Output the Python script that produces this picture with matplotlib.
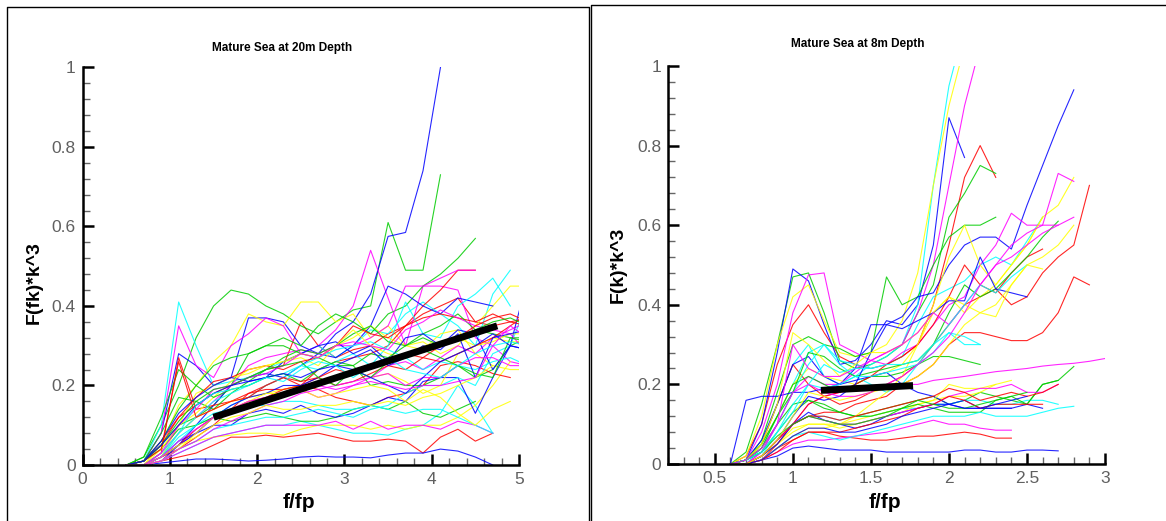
import matplotlib.pyplot as plt
import numpy as np
from matplotlib.lines import Line2D
from matplotlib.ticker import MultipleLocator, FormatStrFormatter

plt.rcParams['font.family'] = ['Liberation Sans', 'DejaVu Sans']

# line colour cycle (red, green, blue, cyan, yellow, magenta)
colors = ['#ff0000', '#00cc00', '#0000ff', '#00ffff', '#ffff00', '#ff00ff']

# ---- 20 m depth: f/fp grid and F(fk)*k^3 curves ----
fp20 = np.arange(24) * 0.2 + 0.5
spec20 = [
    [0, 0.01, 0.06, 0.12, 0.15, 0.18, 0.2, 0.22, 0.24, 0.25, 0.36, 0.3, 0.27, 0.29, 0.3, 0.33, 0.35, 0.38, 0.4, 0.42, 0.36, 0.35, 0.36, 0.37],
    [0, 0.02, 0.1, 0.2, 0.32, 0.4, 0.44, 0.43, 0.4, 0.38, 0.35, 0.33, 0.36, 0.39, 0.4, 0.61, 0.49, 0.49, 0.73],
    [0, 0.01, 0.08, 0.28, 0.25, 0.2, 0.22, 0.37, 0.37, 0.36, 0.3, 0.28, 0.33, 0.36, 0.43, 0.575, 0.585, 0.74, 1.0],
    [0, 0.01, 0.1, 0.41, 0.3, 0.2, 0.21, 0.22, 0.24, 0.26, 0.28, 0.3, 0.27, 0.3, 0.34, 0.33, 0.38, 0.41, 0.38, 0.35, 0.3, 0.43, 0.49],
    [0, 0.0, 0.05, 0.15, 0.2, 0.26, 0.3, 0.38, 0.36, 0.35, 0.41, 0.41, 0.36, 0.38, 0.32, 0.35, 0.3, 0.31, 0.28, 0.3, 0.35, 0.4, 0.45, 0.45],
    [0, 0.01, 0.08, 0.35, 0.25, 0.22, 0.3, 0.33, 0.37, 0.35, 0.28, 0.3, 0.34, 0.4, 0.54, 0.42, 0.3, 0.45, 0.45, 0.44, 0.32, 0.3, 0.26, 0.25],
    [0, 0, 0.02, 0.04, 0.07, 0.1, 0.14, 0.18, 0.2, 0.22, 0.2, 0.24, 0.26, 0.27, 0.28, 0.3, 0.35, 0.4, 0.44, 0.49, 0.49],
    [0, 0.01, 0.05, 0.1, 0.12, 0.15, 0.2, 0.28, 0.3, 0.32, 0.3, 0.35, 0.38, 0.36, 0.33, 0.38, 0.4, 0.45, 0.48, 0.52, 0.57],
    [0, 0, 0.01, 0.05, 0.1, 0.15, 0.2, 0.22, 0.23, 0.22, 0.25, 0.28, 0.27, 0.3, 0.35, 0.45, 0.43, 0.4, 0.38, 0.42, 0.41, 0.4],
    [0, 0, 0.02, 0.07, 0.1, 0.12, 0.15, 0.17, 0.2, 0.22, 0.25, 0.24, 0.26, 0.28, 0.25, 0.3, 0.41, 0.33, 0.32, 0.4, 0.43, 0.47, 0.4],
    [0, 0, 0.02, 0.1, 0.18, 0.2, 0.22, 0.23, 0.25, 0.26, 0.27, 0.25, 0.3, 0.32, 0.35, 0.32, 0.3, 0.29, 0.33, 0.34, 0.28, 0.25, 0.24, 0.24],
    [0, 0, 0.03, 0.08, 0.12, 0.16, 0.2, 0.25, 0.27, 0.28, 0.29, 0.28, 0.3, 0.3, 0.32, 0.35, 0.45, 0.45, 0.47, 0.49, 0.49],
    [0, 0, 0.01, 0.02, 0.03, 0.05, 0.07, 0.07, 0.075, 0.07, 0.075, 0.08, 0.07, 0.06, 0.06, 0.065, 0.06, 0.03, 0.07, 0.09, 0.06, 0.08],
    [0, 0.01, 0.06, 0.14, 0.2, 0.25, 0.27, 0.28, 0.3, 0.3, 0.28, 0.27, 0.25, 0.25, 0.2, 0.21, 0.2, 0.2, 0.22, 0.25, 0.22, 0.24, 0.3, 0.32],
    [0, 0, 0.005, 0.01, 0.015, 0.015, 0.013, 0.01, 0.012, 0.015, 0.02, 0.022, 0.02, 0.02, 0.018, 0.025, 0.03, 0.03, 0.04, 0.035, 0.02, 0.0],
    [0, 0, 0.01, 0.03, 0.05, 0.07, 0.08, 0.09, 0.1, 0.1, 0.11, 0.1, 0.09, 0.08, 0.08, 0.075, 0.09, 0.1, 0.13, 0.2, 0.15, 0.08],
    [0, 0, 0.01, 0.04, 0.06, 0.07, 0.075, 0.08, 0.08, 0.075, 0.09, 0.1, 0.1, 0.1, 0.09, 0.1, 0.09, 0.1, 0.1, 0.12, 0.15, 0.2, 0.26],
    [0, 0, 0.01, 0.03, 0.05, 0.07, 0.08, 0.09, 0.1, 0.1, 0.1, 0.1, 0.11, 0.09, 0.11, 0.09, 0.1, 0.1, 0.09, 0.11, 0.1, 0.08],
    [0, 0, 0.03, 0.27, 0.14, 0.15, 0.16, 0.18, 0.19, 0.19, 0.2, 0.19, 0.17, 0.16, 0.15, 0.17, 0.18, 0.2, 0.25, 0.26, 0.25, 0.23, 0.22],
    [0, 0.01, 0.04, 0.09, 0.1, 0.12, 0.11, 0.12, 0.13, 0.12, 0.11, 0.11, 0.12, 0.14, 0.15, 0.14, 0.16, 0.13, 0.12, 0.14, 0.16],
    [0, 0, 0.02, 0.06, 0.08, 0.1, 0.1, 0.13, 0.14, 0.13, 0.15, 0.13, 0.12, 0.13, 0.15, 0.17, 0.16, 0.21, 0.22, 0.22, 0.13, 0.22, 0.3, 0.29],
    [0, 0, 0.01, 0.04, 0.06, 0.09, 0.1, 0.11, 0.12, 0.12, 0.13, 0.14, 0.13, 0.12, 0.14, 0.15, 0.18, 0.2, 0.2, 0.22, 0.2, 0.28, 0.3, 0.41],
    [0, 0, 0.02, 0.08, 0.12, 0.14, 0.16, 0.17, 0.18, 0.19, 0.2, 0.2, 0.22, 0.24, 0.22, 0.23, 0.21, 0.18, 0.2, 0.28, 0.3, 0.32, 0.31, 0.31],
    [0, 0, 0.02, 0.05, 0.08, 0.12, 0.14, 0.15, 0.16, 0.18, 0.19, 0.17, 0.18, 0.2, 0.22, 0.25, 0.26, 0.24, 0.27, 0.3, 0.28, 0.32, 0.34, 0.36],
    [0, 0.01, 0.05, 0.12, 0.17, 0.21, 0.22, 0.24, 0.25, 0.24, 0.26, 0.27, 0.3, 0.35, 0.33, 0.32, 0.35, 0.37, 0.38, 0.37, 0.36, 0.38, 0.36, 0.35],
    [0, 0.01, 0.08, 0.17, 0.16, 0.14, 0.18, 0.21, 0.24, 0.27, 0.29, 0.28, 0.3, 0.33, 0.35, 0.31, 0.3, 0.33, 0.35, 0.38, 0.34, 0.33, 0.32, 0.32],
    [0, 0.01, 0.06, 0.13, 0.17, 0.2, 0.22, 0.21, 0.22, 0.26, 0.28, 0.3, 0.31, 0.28, 0.3, 0.26, 0.32, 0.33, 0.3, 0.34, 0.33, 0.24, 0.3, 0.47],
    [0, 0, 0.03, 0.08, 0.12, 0.16, 0.18, 0.2, 0.22, 0.23, 0.25, 0.27, 0.29, 0.3, 0.31, 0.29, 0.27, 0.24, 0.26, 0.25, 0.24, 0.26, 0.27, 0.25],
    [0, 0, 0.04, 0.1, 0.13, 0.17, 0.21, 0.24, 0.25, 0.26, 0.28, 0.27, 0.3, 0.34, 0.3, 0.28, 0.27, 0.3, 0.3, 0.32, 0.3, 0.31, 0.33, 0.33],
    [0, 0, 0.03, 0.1, 0.14, 0.19, 0.2, 0.22, 0.23, 0.25, 0.28, 0.27, 0.3, 0.31, 0.3, 0.29, 0.34, 0.36, 0.39, 0.37, 0.35, 0.34, 0.33, 0.28],
    [0, 0, 0.02, 0.05, 0.09, 0.12, 0.14, 0.16, 0.17, 0.19, 0.2, 0.22, 0.2, 0.21, 0.23, 0.25, 0.24, 0.27, 0.26, 0.28, 0.3, 0.32, 0.35, 0.38],
    [0, 0.02, 0.12, 0.24, 0.2, 0.17, 0.19, 0.2, 0.22, 0.23, 0.21, 0.24, 0.26, 0.25, 0.28, 0.27, 0.3, 0.32, 0.3, 0.32, 0.34, 0.36, 0.37, 0.35],
    [0, 0, 0.02, 0.05, 0.08, 0.12, 0.15, 0.17, 0.18, 0.2, 0.2, 0.22, 0.25, 0.27, 0.29, 0.25, 0.27, 0.3, 0.29, 0.33, 0.22, 0.32, 0.33, 0.34],
    [0, 0, 0.02, 0.06, 0.1, 0.13, 0.14, 0.15, 0.15, 0.16, 0.16, 0.15, 0.14, 0.14, 0.15, 0.14, 0.13, 0.14, 0.14, 0.12, 0.1, 0.08],
    [0, 0, 0.01, 0.04, 0.08, 0.12, 0.14, 0.16, 0.18, 0.18, 0.19, 0.17, 0.18, 0.19, 0.2, 0.19, 0.16, 0.19, 0.17, 0.13, 0.1, 0.14, 0.16],
    [0, 0, 0.01, 0.04, 0.06, 0.09, 0.11, 0.13, 0.15, 0.16, 0.18, 0.19, 0.2, 0.21, 0.22, 0.23, 0.2, 0.22, 0.22, 0.25, 0.27, 0.27, 0.25, 0.25],
    [0, 0.01, 0.04, 0.26, 0.12, 0.14, 0.16, 0.17, 0.2, 0.22, 0.21, 0.22, 0.24, 0.23, 0.25, 0.26, 0.28, 0.27, 0.3, 0.32, 0.35, 0.37, 0.38, 0.36],
    [0, 0.01, 0.05, 0.11, 0.16, 0.19, 0.2, 0.22, 0.24, 0.25, 0.26, 0.22, 0.2, 0.24, 0.22, 0.26, 0.28, 0.29, 0.27, 0.25, 0.23, 0.22, 0.32, 0.31],
    [0, 0.01, 0.05, 0.1, 0.15, 0.18, 0.2, 0.21, 0.22, 0.23, 0.22, 0.24, 0.25, 0.24, 0.22, 0.2, 0.18, 0.22, 0.26, 0.28, 0.3, 0.33, 0.3, 0.29],
    [0, 0.0, 0.02, 0.08, 0.15, 0.18, 0.19, 0.2, 0.22, 0.21, 0.24, 0.26, 0.25, 0.22, 0.25, 0.27, 0.24, 0.23, 0.22, 0.25, 0.28, 0.3, 0.31, 0.3],
    [0, 0, 0.02, 0.05, 0.07, 0.1, 0.12, 0.13, 0.15, 0.14, 0.14, 0.15, 0.15, 0.16, 0.15, 0.16, 0.15, 0.17, 0.18, 0.2, 0.22, 0.25],
    [0, 0, 0.02, 0.06, 0.09, 0.12, 0.14, 0.16, 0.17, 0.18, 0.19, 0.2, 0.19, 0.2, 0.21, 0.2, 0.19, 0.2, 0.2, 0.21, 0.22, 0.3, 0.35, 0.32],
]
fit20_x = [1.5, 4.75]
fit20_y = [0.12, 0.35]

# ---- 8 m depth ----
fp8 = np.arange(25) * 0.1 + 0.6
spec8 = [
    [0, 0.02, 0.1, 0.25, 0.35, 0.4, 0.33, 0.27, 0.25, 0.24, 0.25, 0.27, 0.3, 0.4, 0.55, 0.72, 0.8, 0.72],
    [0, 0.03, 0.15, 0.3, 0.47, 0.48, 0.38, 0.26, 0.24, 0.25, 0.27, 0.3, 0.38, 0.45, 0.62, 0.68, 0.75, 0.73],
    [0, 0.01, 0.1, 0.28, 0.49, 0.46, 0.35, 0.25, 0.26, 0.3, 0.36, 0.35, 0.4, 0.55, 0.87, 0.77],
    [0, 0.01, 0.05, 0.15, 0.25, 0.3, 0.22, 0.2, 0.22, 0.25, 0.27, 0.3, 0.4, 0.7, 0.95, 1.1],
    [0, 0.02, 0.12, 0.3, 0.42, 0.45, 0.36, 0.28, 0.27, 0.28, 0.3, 0.36, 0.48, 0.7, 0.9, 1.05],
    [0, 0.01, 0.08, 0.2, 0.38, 0.475, 0.48, 0.3, 0.28, 0.26, 0.28, 0.3, 0.38, 0.5, 0.7, 0.9, 1.05],
    [0, 0.01, 0.05, 0.15, 0.25, 0.2, 0.17, 0.15, 0.16, 0.18, 0.2, 0.22, 0.25, 0.3, 0.35, 0.4, 0.42, 0.44, 0.4, 0.42, 0.48, 0.52, 0.55, 0.7],
    [0, 0.01, 0.06, 0.18, 0.3, 0.32, 0.3, 0.29, 0.27, 0.28, 0.47, 0.4, 0.42, 0.5, 0.57, 0.6, 0.6, 0.62],
    [0, 0.01, 0.06, 0.15, 0.25, 0.27, 0.22, 0.2, 0.24, 0.35, 0.35, 0.37, 0.42, 0.43, 0.5, 0.55, 0.57, 0.57, 0.54, 0.65, 0.75, 0.85, 0.94],
    [0, 0, 0.04, 0.12, 0.2, 0.28, 0.3, 0.26, 0.25, 0.24, 0.25, 0.27, 0.35, 0.42, 0.44, 0.46, 0.5, 0.52, 0.5, 0.56, 0.62],
    [0, 0.01, 0.05, 0.12, 0.2, 0.24, 0.22, 0.21, 0.2, 0.22, 0.23, 0.25, 0.3, 0.38, 0.42, 0.38, 0.42, 0.45, 0.5, 0.55, 0.62, 0.65, 0.72],
    [0, 0, 0.03, 0.1, 0.18, 0.22, 0.2, 0.2, 0.23, 0.26, 0.25, 0.28, 0.3, 0.35, 0.4, 0.42, 0.5, 0.55, 0.63, 0.6, 0.6, 0.73, 0.71],
    [0, 0, 0.02, 0.06, 0.1, 0.12, 0.13, 0.13, 0.15, 0.16, 0.17, 0.2, 0.22, 0.25, 0.3, 0.33, 0.33, 0.32, 0.31, 0.31, 0.33, 0.38, 0.47, 0.45],
    [0, 0.01, 0.04, 0.1, 0.15, 0.16, 0.14, 0.13, 0.12, 0.13, 0.14, 0.15, 0.16, 0.17, 0.15, 0.16, 0.18, 0.17, 0.16, 0.15, 0.2, 0.21, 0.245],
    [0, 0, 0.01, 0.02, 0.04, 0.045, 0.04, 0.035, 0.035, 0.035, 0.03, 0.03, 0.03, 0.03, 0.03, 0.035, 0.035, 0.03, 0.03, 0.035, 0.035, 0.033],
    [0, 0, 0.02, 0.06, 0.1, 0.12, 0.12, 0.11, 0.12, 0.12, 0.13, 0.14, 0.14, 0.15, 0.15, 0.16, 0.16, 0.15, 0.15, 0.16, 0.16, 0.15],
    [0, 0, 0.02, 0.05, 0.09, 0.1, 0.1, 0.1, 0.11, 0.12, 0.13, 0.14, 0.15, 0.16, 0.17, 0.17, 0.18, 0.2, 0.21],
    [0, 0, 0.02, 0.06, 0.1, 0.15, 0.17, 0.18, 0.19, 0.19, 0.19, 0.2, 0.2, 0.21, 0.215, 0.22, 0.226, 0.232, 0.236, 0.24, 0.246, 0.25, 0.253, 0.258, 0.265],
    [0, 0, 0.01, 0.04, 0.06, 0.08, 0.08, 0.07, 0.065, 0.06, 0.06, 0.065, 0.07, 0.07, 0.075, 0.08, 0.075, 0.065, 0.065],
    [0, 0.01, 0.04, 0.12, 0.2, 0.22, 0.2, 0.18, 0.2, 0.22, 0.22, 0.23, 0.25, 0.27, 0.27, 0.26, 0.25],
    [0, 0.16, 0.17, 0.17, 0.18, 0.18, 0.19, 0.2, 0.21, 0.22, 0.23, 0.2, 0.18, 0.17, 0.15, 0.14, 0.14, 0.14, 0.14],
    [0, 0.01, 0.03, 0.1, 0.18, 0.25, 0.3, 0.25, 0.22, 0.2, 0.18, 0.2, 0.25, 0.3, 0.33, 0.3, 0.3],
    [0, 0, 0.02, 0.05, 0.08, 0.1, 0.1, 0.09, 0.1, 0.11, 0.12, 0.13, 0.15, 0.16, 0.2, 0.19, 0.19, 0.2],
    [0, 0, 0.01, 0.03, 0.05, 0.06, 0.06, 0.065, 0.07, 0.075, 0.08, 0.09, 0.1, 0.11, 0.1, 0.1, 0.09, 0.085, 0.085],
    [0, 0, 0.01, 0.05, 0.1, 0.15, 0.17, 0.18, 0.2, 0.22, 0.25, 0.27, 0.3, 0.35, 0.42, 0.5, 0.45, 0.43, 0.48, 0.52, 0.54],
    [0, 0.01, 0.03, 0.08, 0.13, 0.16, 0.15, 0.13, 0.12, 0.12, 0.13, 0.14, 0.15, 0.14, 0.13, 0.13, 0.13, 0.16, 0.17, 0.15, 0.2, 0.21],
    [0, 0, 0.02, 0.05, 0.1, 0.13, 0.11, 0.1, 0.09, 0.1, 0.12, 0.13, 0.14, 0.15, 0.15, 0.16, 0.14, 0.14, 0.14, 0.15, 0.14],
    [0, 0, 0.01, 0.04, 0.07, 0.08, 0.07, 0.06, 0.07, 0.08, 0.09, 0.1, 0.11, 0.12, 0.12, 0.12, 0.13, 0.12, 0.12, 0.12, 0.13, 0.14, 0.145],
    [0, 0, 0.01, 0.04, 0.07, 0.09, 0.09, 0.1, 0.12, 0.15, 0.18, 0.22, 0.3, 0.4, 0.52, 0.6, 0.5, 0.45, 0.5, 0.55, 0.62],
    [0, 0, 0.02, 0.06, 0.1, 0.12, 0.11, 0.1, 0.1, 0.11, 0.12, 0.13, 0.14, 0.15, 0.17, 0.18, 0.19, 0.19, 0.2, 0.18, 0.18, 0.2],
    [0, 0, 0.01, 0.03, 0.06, 0.08, 0.08, 0.08, 0.09, 0.1, 0.11, 0.12, 0.14, 0.15, 0.17, 0.16, 0.14, 0.15, 0.15, 0.15, 0.15],
    [0, 0.01, 0.05, 0.12, 0.18, 0.28, 0.27, 0.24, 0.22, 0.23, 0.24, 0.25, 0.26, 0.3, 0.38, 0.45, 0.42, 0.44, 0.48, 0.52, 0.57, 0.61],
    [0, 0, 0.02, 0.06, 0.12, 0.17, 0.16, 0.17, 0.2, 0.28, 0.35, 0.34, 0.36, 0.38, 0.41, 0.41, 0.52, 0.44, 0.43, 0.42],
    [0, 0, 0.02, 0.08, 0.15, 0.2, 0.19, 0.2, 0.22, 0.22, 0.23, 0.24, 0.25, 0.28, 0.33, 0.32, 0.3],
    [0, 0.01, 0.05, 0.15, 0.33, 0.3, 0.26, 0.22, 0.25, 0.28, 0.28, 0.3, 0.33, 0.38, 0.42, 0.4, 0.38, 0.37, 0.45, 0.5, 0.49],
    [0, 0, 0.03, 0.1, 0.3, 0.24, 0.22, 0.22, 0.24, 0.26, 0.28, 0.3, 0.33, 0.38, 0.35, 0.4, 0.45, 0.5, 0.52, 0.55, 0.58, 0.6],
    [0, 0, 0.02, 0.06, 0.1, 0.12, 0.12, 0.11, 0.12, 0.13, 0.14, 0.15, 0.16, 0.17, 0.19, 0.18, 0.16, 0.17, 0.18, 0.17, 0.18, 0.2],
    [0, 0.01, 0.03, 0.07, 0.1, 0.12, 0.11, 0.1, 0.1, 0.11, 0.12, 0.14, 0.16, 0.15, 0.14, 0.14, 0.15, 0.16, 0.17, 0.18],
    [0, 0, 0.01, 0.04, 0.07, 0.09, 0.09, 0.08, 0.08, 0.09, 0.1, 0.12, 0.13, 0.14, 0.15, 0.14, 0.14, 0.15, 0.16, 0.17],
    [0, 0.01, 0.03, 0.08, 0.13, 0.2, 0.25, 0.23, 0.24, 0.24, 0.25, 0.25, 0.26, 0.3, 0.35, 0.4, 0.45, 0.43, 0.47, 0.5],
    [0, 0, 0.02, 0.06, 0.12, 0.18, 0.17, 0.16, 0.17, 0.18, 0.19, 0.2, 0.22, 0.25, 0.3, 0.35, 0.38, 0.4, 0.45, 0.5, 0.52, 0.55, 0.6],
    [0, 0.01, 0.04, 0.1, 0.18, 0.2, 0.18, 0.17, 0.17, 0.18, 0.2, 0.22, 0.25, 0.28, 0.32, 0.38, 0.45, 0.5, 0.55, 0.58, 0.6, 0.6, 0.62],
]
fit8_x = [1.18, 1.77]
fit8_y = [0.185, 0.197]


def style_axis(ax, xlim, xmajor, xminor):
    ax.set_xlim(*xlim)
    ax.set_ylim(0, 1)
    for s in ['top', 'right']:
        ax.spines[s].set_visible(False)
    for s in ['left', 'bottom']:
        ax.spines[s].set_linewidth(1.8)
    ax.xaxis.set_major_locator(MultipleLocator(xmajor))
    ax.xaxis.set_minor_locator(MultipleLocator(xminor))
    ax.xaxis.set_major_formatter(FormatStrFormatter('%g'))
    ax.yaxis.set_major_locator(MultipleLocator(0.2))
    ax.yaxis.set_minor_locator(MultipleLocator(0.04))
    ax.yaxis.set_major_formatter(FormatStrFormatter('%g'))
    ax.tick_params(which='major', direction='in', length=8, width=1.8,
                   labelsize=12.5, labelcolor='#606060', pad=5)
    ax.tick_params(which='minor', direction='in', length=5, width=1.0,
                   color='#666666')


def draw_panel(ax, xs, curves, fit_x, fit_y):
    for i, c in enumerate(curves):
        ax.plot(xs[:len(c)], c, color=colors[i % 6], lw=0.8, alpha=0.85)
    ax.plot(fit_x, fit_y, color='black', lw=5, solid_capstyle='butt')


fig = plt.figure(figsize=(11.66, 5.21), dpi=100)

ax1 = fig.add_axes([0.0709, 0.1075, 0.3742, 0.763])
draw_panel(ax1, fp20, spec20, fit20_x, fit20_y)
style_axis(ax1, (0, 5), 1, 0.2)
ax1.set_xlabel('f/fp', fontsize=15, fontweight='bold')
ax1.xaxis.set_label_coords(0.496, -0.07)
ax1.set_ylabel('F(fk)*k^3', fontsize=14, fontweight='bold')
ax1.yaxis.set_label_coords(-0.091, 0.46)
ax1.text(0.457, 1.05, 'Mature Sea at 20m Depth', transform=ax1.transAxes,
         ha='center', va='center', fontsize=8.5, fontweight='bold')

ax2 = fig.add_axes([0.5729, 0.1094, 0.3748, 0.764])
draw_panel(ax2, fp8, spec8, fit8_x, fit8_y)
style_axis(ax2, (0.2, 3.0), 0.5, 0.1)
ax2.set_xlabel('f/fp', fontsize=15, fontweight='bold')
ax2.xaxis.set_label_coords(0.496, -0.073)
ax2.set_ylabel('F(k)*k^3', fontsize=14, fontweight='bold')
ax2.yaxis.set_label_coords(-0.094, 0.5)
ax2.text(0.435, 1.055, 'Mature Sea at 8m Depth', transform=ax2.transAxes,
         ha='center', va='center', fontsize=8.5, fontweight='bold')

# frames around the two panels
W, H = 1166.0, 521.0
for x0, x1, yt in [(7, 589, 7), (591, 1170, 5)]:
    fig.add_artist(Line2D([x0 / W, x0 / W, x1 / W, x1 / W],
                          [-0.01, 1 - yt / H, 1 - yt / H, -0.01],
                          color='black', lw=1.0, transform=fig.transFigure))

fig.savefig('out.png', dpi=100)
